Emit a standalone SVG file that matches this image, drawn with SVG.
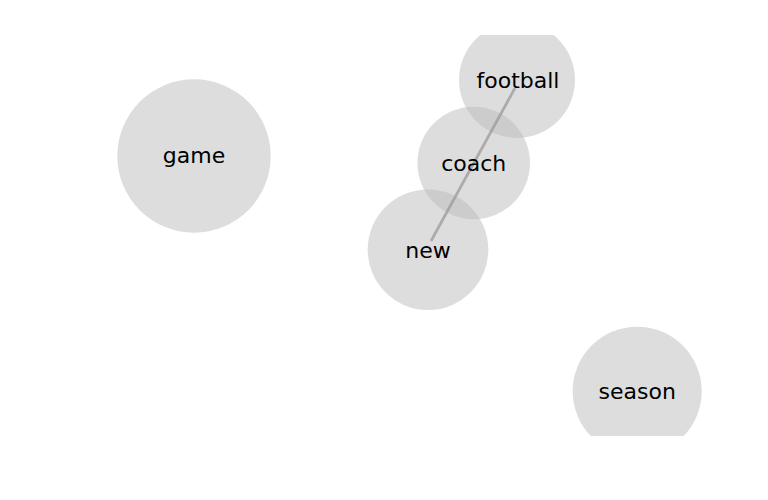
<svg xmlns="http://www.w3.org/2000/svg" width="768" height="500" viewBox="0 0 768 500">
<style>
.n circle{fill:#bbbbbb;fill-opacity:0.5}
.n text{font-family:"DejaVu Sans",sans-serif;font-size:22px;fill:#000;text-anchor:middle}
.e{stroke:#999;stroke-opacity:0.75;stroke-width:2.7;fill:none}
</style>
<defs><clipPath id="c"><rect x="0" y="35" width="768" height="401"/></clipPath></defs>
<rect width="768" height="500" fill="#fff"/>
<g clip-path="url(#c)">
<g id="game" class="n"><circle cx="194" cy="156" r="76.7"/></g>
<g id="football" class="n"><circle cx="517" cy="80" r="58"/></g>
<g id="coach" class="n"><circle cx="473.7" cy="163" r="56.3"/></g>
<g id="new" class="n"><circle cx="428" cy="249.7" r="60.3"/></g>
<g id="season" class="n"><circle cx="637.2" cy="391.2" r="64.5"/></g>
<g id="connectors"><line class="e" x1="515" y1="88" x2="431" y2="241"/></g>
<g class="n">
<text x="194" y="163">game</text>
<text x="518" y="88">football</text>
<text x="473.7" y="170.5">coach</text>
<text x="428" y="257.5">new</text>
<text x="637.2" y="398.5">season</text>
</g>
</g>
</svg>
